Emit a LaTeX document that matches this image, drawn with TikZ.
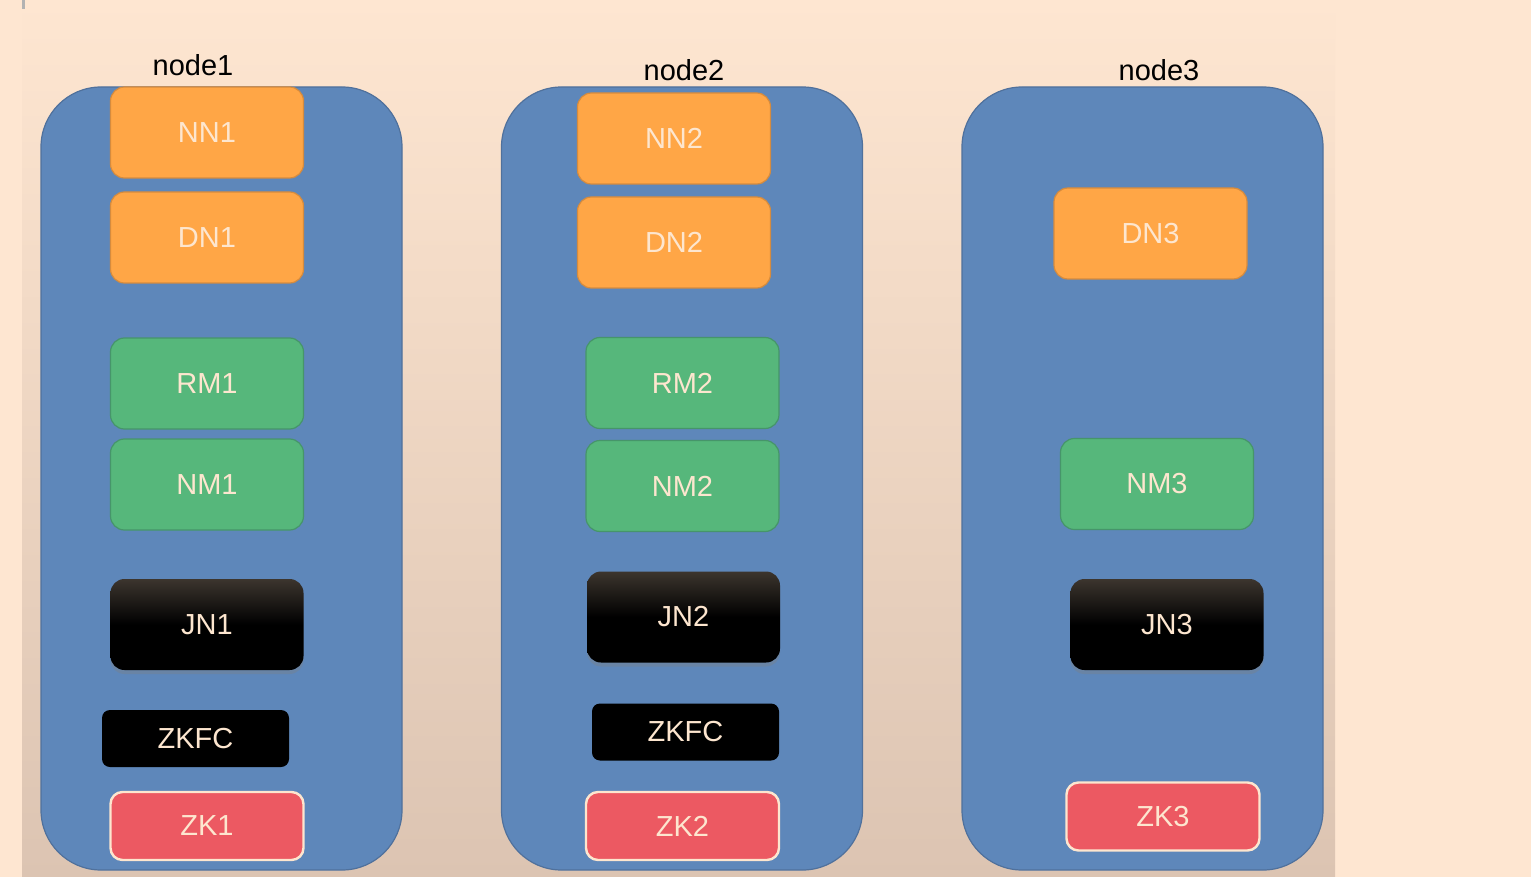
\documentclass[tikz,border=0pt]{standalone}
\usepackage{fontspec}
\setmainfont{Liberation Sans}
\usetikzlibrary{shadows}

\definecolor{pagebg}{HTML}{FEE6D1}
\definecolor{panelbot}{HTML}{DCC4B2}
\definecolor{hostblue}{HTML}{5E87BA}
\definecolor{hostedge}{HTML}{50719C}
\definecolor{hdfsfill}{HTML}{FFA646}
\definecolor{hdfsedge}{HTML}{D68B3D}
\definecolor{yarnfill}{HTML}{56B77B}
\definecolor{yarnedge}{HTML}{46956A}
\definecolor{jntop}{HTML}{3C352E}
\definecolor{zkfill}{HTML}{EC5962}
\definecolor{boxtext}{HTML}{FDE6CF}

\begin{document}
\begin{tikzpicture}[
  x=0.5pt, y=-0.5pt,
  host/.style={rectangle, draw=hostedge, fill=hostblue, line width=0.6pt, rounded corners=30pt, minimum width=180.5pt, minimum height=391.5pt},
  hostlabel/.style={inner sep=0pt, font=\fontsize{14.5}{17}\selectfont},
  box/.style={rectangle, rounded corners=7pt, line width=0.6pt, minimum width=96.5pt, minimum height=45.5pt, inner sep=0pt, text=boxtext, font=\fontsize{14.5}{17}\selectfont},
  hdfs/.style={box, fill=hdfsfill, draw=hdfsedge},
  yarn/.style={box, fill=yarnfill, draw=yarnedge},
  jn/.style={box, draw=none, top color=jntop, bottom color=black, middle color=black, drop shadow={shadow xshift=0pt, shadow yshift=-2pt, opacity=0.35}},
  zkfc/.style={box, fill=black, rounded corners=4pt, minimum width=93.5pt, minimum height=28.5pt},
  zk/.style={box, fill=zkfill, draw=boxtext, line width=1.2pt, rounded corners=6pt, minimum height=34pt}
]
\useasboundingbox (0,0) rectangle (1531,877);

% Background
\fill[pagebg] (0,0) rectangle (1531,877);
\shade[top color=pagebg, bottom color=panelbot] (22,0) rectangle (1335,877);
\fill[gray!60] (22,0) rectangle (25,9);

% Hosts
\node[host] (host1) at (221.5,478.5) {};
\node[host] (host2) at (682,478.5) {};
\node[host] (host3) at (1142.5,478.5) {};

\node[hostlabel] (lab1) at (193,65) {node1};
\node[hostlabel] (lab2) at (684,70.5) {node2};
\node[hostlabel] (lab3) at (1159,70.5) {node3};

% node1
\node[hdfs] (nn1) at (207,132.5) {NN1};
\node[hdfs] (dn1) at (207,237.5) {DN1};
\node[yarn] (rm1) at (207,383.5) {RM1};
\node[yarn] (nm1) at (207,484.5) {NM1};
\node[jn] (jn1) at (207,624.5) {JN1};
\node[zkfc] (zkfc1) at (195.5,738.5) {ZKFC};
\node[zk] (zk1) at (207,826) {ZK1};

% node2
\node[hdfs] (nn2) at (674,138.5) {NN2};
\node[hdfs] (dn2) at (674,242.5) {DN2};
\node[yarn] (rm2) at (682.5,383) {RM2};
\node[yarn] (nm2) at (682.5,486) {NM2};
\node[jn] (jn2) at (683.5,617) {JN2};
\node[zkfc] (zkfc2) at (685.5,732) {ZKFC};
\node[zk] (zk2) at (682.5,826) {ZK2};

% node3
\node[hdfs] (dn3) at (1150.5,233.5) {DN3};
\node[yarn] (nm3) at (1157,484) {NM3};
\node[jn] (jn3) at (1167,624.5) {JN3};
\node[zk] (zk3) at (1163,816.5) {ZK3};

\end{tikzpicture}
\end{document}
